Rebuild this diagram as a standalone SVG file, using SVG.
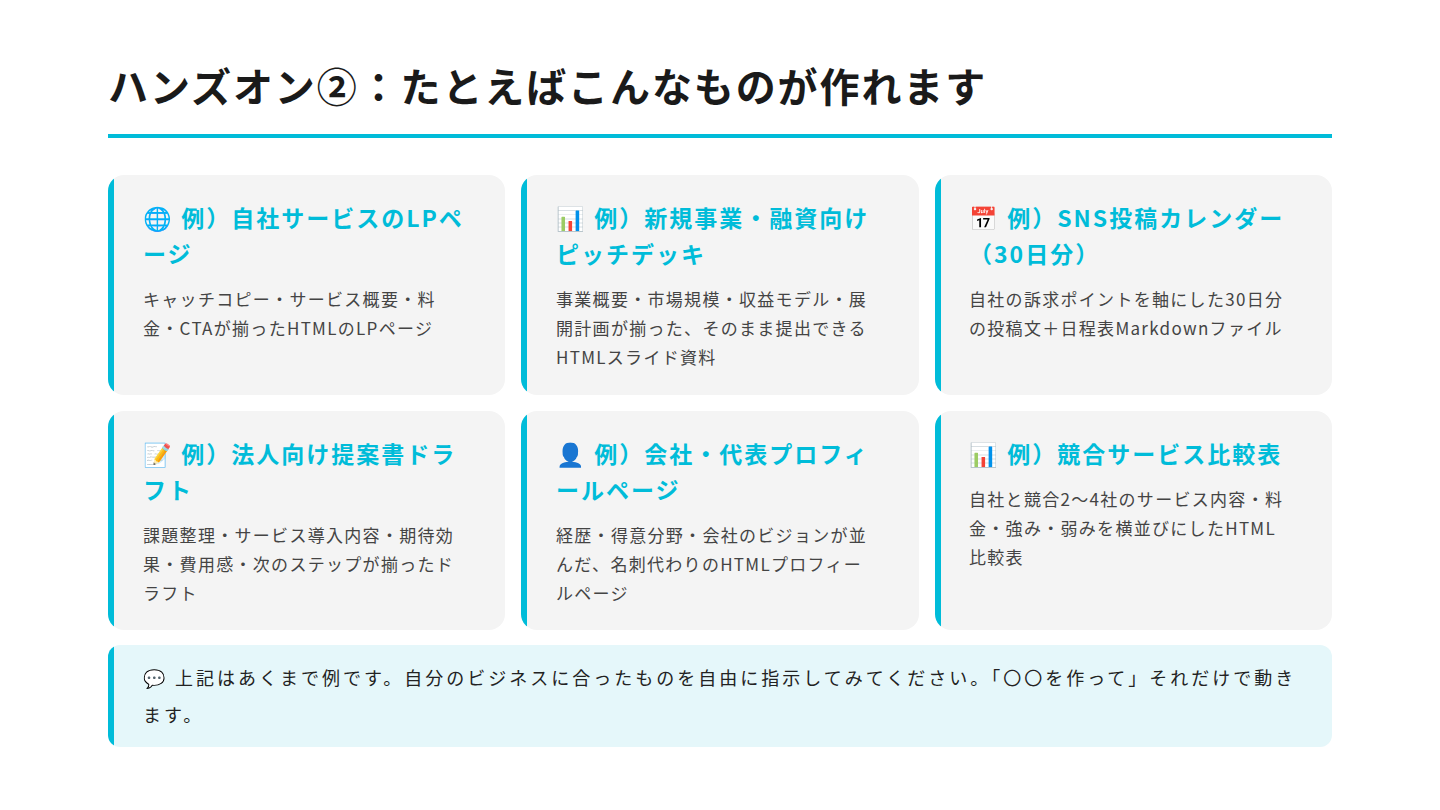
<svg xmlns="http://www.w3.org/2000/svg" width="1440" height="810" viewBox="0 0 1440 810">
<style>
text{font-family:"Noto Sans CJK JP","Noto Sans",sans-serif}
.h{font-size:40px;font-weight:700;fill:#1a1a1a;letter-spacing:1.9px}
.t{font-size:23px;font-weight:700;fill:#00BCD9;letter-spacing:2px}
.b{font-size:17px;fill:#444;letter-spacing:1.3px}
.n{font-size:18px;fill:#222;letter-spacing:3px}
.card{fill:#F4F4F4}
.bar{fill:#00BCD9}
</style>
<rect width="1440" height="810" fill="#fff"/>
<text class="h" x="108" y="102">ハンズオン②：たとえばこんなものが作れます</text>
<rect x="108" y="134" width="1224" height="4" class="bar"/>
<defs>
<clipPath id="c1"><rect x="108" y="175" width="397" height="220" rx="16"/></clipPath>
<clipPath id="c2"><rect x="521" y="175" width="398" height="220" rx="16"/></clipPath>
<clipPath id="c3"><rect x="935" y="175" width="397" height="220" rx="16"/></clipPath>
<clipPath id="c4"><rect x="108" y="411" width="397" height="219" rx="16"/></clipPath>
<clipPath id="c5"><rect x="521" y="411" width="398" height="219" rx="16"/></clipPath>
<clipPath id="c6"><rect x="935" y="411" width="397" height="219" rx="16"/></clipPath>
<clipPath id="c7"><rect x="108" y="645" width="1224" height="102" rx="12"/></clipPath>
</defs>
<g id="card1" clip-path="url(#c1)"><rect class="card" x="108" y="175" width="397" height="220"/><rect class="bar" x="108" y="175" width="6" height="220"/>
<text class="t" x="143" y="227">🌐 例）自社サービスのLPペ</text><text class="t" x="143" y="263">ージ</text>
<text class="b" x="143" y="306">キャッチコピー・サービス概要・料</text><text class="b" x="143" y="335">金・CTAが揃ったHTMLのLPページ</text></g>
<g id="card2" clip-path="url(#c2)"><rect class="card" x="521" y="175" width="398" height="220"/><rect class="bar" x="521" y="175" width="6" height="220"/>
<text class="t" x="556" y="227">📊 例）新規事業・融資向け</text><text class="t" x="556" y="263">ピッチデッキ</text>
<text class="b" x="556" y="306">事業概要・市場規模・収益モデル・展</text><text class="b" x="556" y="335">開計画が揃った、そのまま提出できる</text><text class="b" x="556" y="364">HTMLスライド資料</text></g>
<g id="card3" clip-path="url(#c3)"><rect class="card" x="935" y="175" width="397" height="220"/><rect class="bar" x="935" y="175" width="6" height="220"/>
<text class="t" x="969" y="227">📅 例）SNS投稿カレンダー</text><text class="t" x="969" y="263">（30日分）</text>
<text class="b" x="969" y="306">自社の訴求ポイントを軸にした30日分</text><text class="b" x="969" y="335">の投稿文＋日程表Markdownファイル</text></g>
<g id="card4" clip-path="url(#c4)"><rect class="card" x="108" y="411" width="397" height="219"/><rect class="bar" x="108" y="411" width="6" height="219"/>
<text class="t" x="143" y="463">📝 例）法人向け提案書ドラ</text><text class="t" x="143" y="499">フト</text>
<text class="b" x="143" y="542">課題整理・サービス導入内容・期待効</text><text class="b" x="143" y="571">果・費用感・次のステップが揃ったド</text><text class="b" x="143" y="600">ラフト</text></g>
<g id="card5" clip-path="url(#c5)"><rect class="card" x="521" y="411" width="398" height="219"/><rect class="bar" x="521" y="411" width="6" height="219"/>
<text class="t" x="556" y="463">👤 例）会社・代表プロフィ</text><text class="t" x="556" y="499">ールページ</text>
<text class="b" x="556" y="542">経歴・得意分野・会社のビジョンが並</text><text class="b" x="556" y="571">んだ、名刺代わりのHTMLプロフィー</text><text class="b" x="556" y="600">ルページ</text></g>
<g id="card6" clip-path="url(#c6)"><rect class="card" x="935" y="411" width="397" height="219"/><rect class="bar" x="935" y="411" width="6" height="219"/>
<text class="t" x="969" y="463">📊 例）競合サービス比較表</text>
<text class="b" x="969" y="506">自社と競合2〜4社のサービス内容・料</text><text class="b" x="969" y="535">金・強み・弱みを横並びにしたHTML</text><text class="b" x="969" y="564">比較表</text></g>
<g id="note" clip-path="url(#c7)"><rect x="108" y="645" width="1224" height="102" fill="#E5F7FA"/><rect class="bar" x="108" y="645" width="6" height="102"/>
<text class="n" x="143" y="685">💬 上記はあくまで例です。自分のビジネスに合ったものを自由に指示してみてください。「〇〇を作って」それだけで動き</text>
<text class="n" x="143" y="722">ます。</text></g>
<g id="connectors"/>
</svg>
